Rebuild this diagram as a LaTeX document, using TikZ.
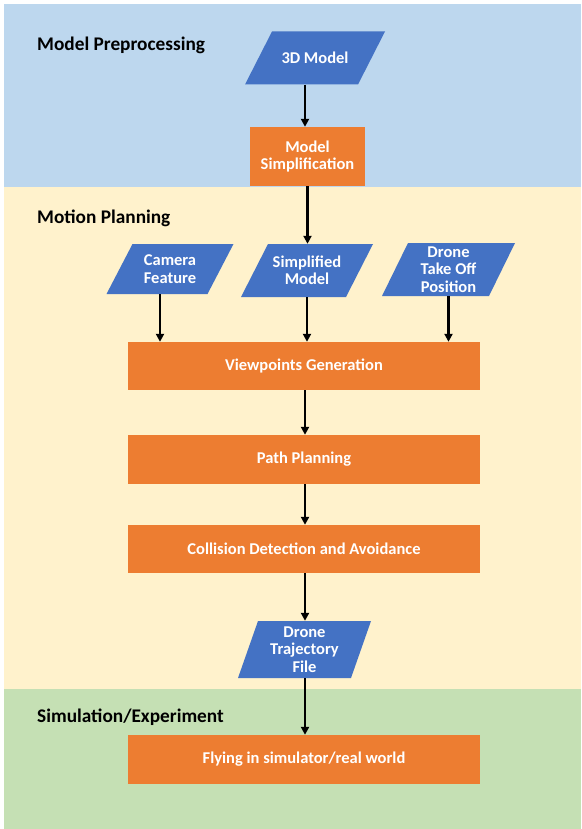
\documentclass[tikz,border=0pt]{standalone}
\usepackage{fontspec}
\setmainfont{Carlito}
\usetikzlibrary{arrows.meta}
\definecolor{bandblue}{HTML}{BDD7EE}
\definecolor{bandyellow}{HTML}{FFF2CC}
\definecolor{bandgreen}{HTML}{C5E0B4}
\definecolor{boxorange}{HTML}{ED7D31}
\definecolor{boxblue}{HTML}{4472C4}
\tikzset{
  procbox/.style={rectangle, fill=boxorange, text=white, font=\fontsize{16.5}{17.5}\selectfont\bfseries, align=center, inner sep=0pt},
  databox/.style={rectangle, text=white, font=\fontsize{16.5}{17.5}\selectfont\bfseries, align=center, inner sep=0pt,
    path picture={\fill[boxblue] ([xshift=#1]path picture bounding box.north west) -- (path picture bounding box.north east)
      -- ([xshift=-#1]path picture bounding box.south east) -- (path picture bounding box.south west) -- cycle;}},
  databox/.default=26pt,
  heading/.style={anchor=west, font=\fontsize{19.3}{22}\selectfont\bfseries, text=black, inner sep=0pt},
  arr/.style={line width=2.4pt, black, -{Triangle[length=8pt,width=8pt]}}
}
\begin{document}
\begin{tikzpicture}[x=1pt,y=-1pt]
\useasboundingbox (0,0) rectangle (581,829);
% bands
\fill[bandblue] (4,4) rectangle (581,187);
\fill[bandyellow] (4,187) rectangle (581,689);
\fill[bandgreen] (4,689) rectangle (581,829);
% headings
\node[heading] (h1) at (37,45) {Model Preprocessing};
\node[heading] (h2) at (37,218) {Motion Planning};
\node[heading] (h3) at (37,717) {Simulation/Experiment};
% nodes
\node[databox=27pt, minimum width=140pt, minimum height=53pt] (m3d) at (315,58) {3D Model};
\node[procbox, minimum width=115pt, minimum height=59pt] (simp) at (307.5,156.5) {Model\\Simplification};
\node[databox=26pt, minimum width=127pt, minimum height=50pt] (cam) at (170,269) {Camera\\Feature};
\node[databox=27pt, minimum width=132pt, minimum height=53pt] (smod) at (307,270.5) {Simplified\\Model};
\node[databox=26pt, minimum width=133pt, minimum height=53pt] (drone) at (448.5,269.5) {Drone\\Take Off\\Position};
\node[procbox, minimum width=352pt, minimum height=48pt] (view) at (304,366) {Viewpoints Generation};
\node[procbox, minimum width=352pt, minimum height=49pt] (path) at (304,459.5) {Path Planning};
\node[procbox, minimum width=352pt, minimum height=48pt] (coll) at (304,549) {Collision Detection and Avoidance};
\node[databox=20pt, minimum width=133pt, minimum height=57pt] (traj) at (304.5,649.5) {Drone\\Trajectory\\File};
\node[procbox, minimum width=352pt, minimum height=49pt] (fly) at (304,759.5) {Flying in simulator/real world};
% connectors
\draw[arr] ([xshift=-10pt]m3d.south) -- ([xshift=-2.5pt]simp.north);
\draw[arr] (simp.south) -- (simp.south |- smod.north);
\draw[arr] ([xshift=-10pt]cam.south) -- ([xshift=-10pt]cam.south |- view.north);
\draw[arr] (smod.south) -- (smod.south |- view.north);
\draw[arr] (drone.south) -- (drone.south |- view.north);
\draw[arr] ([xshift=1pt]view.south) -- ([xshift=1pt]path.north);
\draw[arr] ([xshift=1pt]path.south) -- ([xshift=1pt]coll.north);
\draw[arr] ([xshift=1pt]coll.south) -- ([xshift=0.5pt]traj.north);
\draw[arr] ([xshift=0.5pt]traj.south) -- ([xshift=1pt]fly.north);
\end{tikzpicture}
\end{document}
